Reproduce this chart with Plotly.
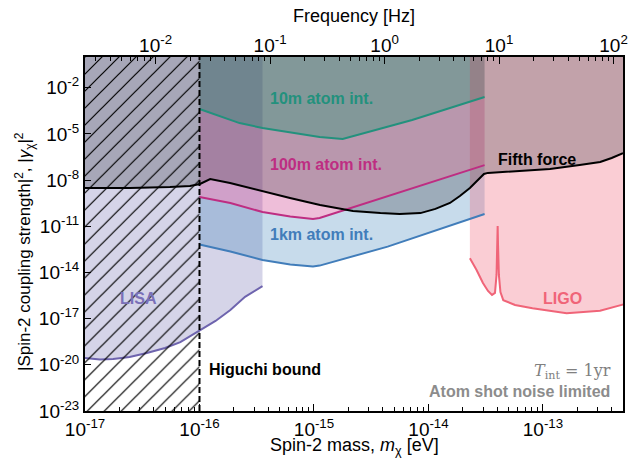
import plotly.graph_objects as go

EV_TO_HZ = 2.417989e14  # frequency [Hz] per eV of mass

# ---- data (mass in eV, coupling |gamma|^2) ----
fifth_mass = [1.0e-17, 2.47e-17, 5.52e-17, 8.26e-17, 1.01e-16, 1.24e-16, 1.85e-16, 3.73e-16,
              6.17e-16, 1.13e-15, 2.19e-15, 3.8e-15, 5.6e-15, 8.5e-15, 1.15e-14, 1.54e-14,
              1.88e-14, 2.3e-14, 2.7e-14, 3.05e-14, 3.3e-14, 6.3e-14, 1.15e-13, 2.09e-13,
              3.16e-13, 3.98e-13, 5.0e-13]
fifth_coupling = [3.1e-9, 3.1e-9, 3.6e-9, 4.2e-9, 5.6e-9, 1.17e-8, 6.6e-9, 1.7e-9,
                  6.9e-10, 2.4e-10, 1.0e-10, 7.2e-11, 6.3e-11, 7.2e-11, 1.35e-10, 3.27e-10,
                  9.3e-10, 3.1e-9, 1.02e-8, 2.5e-8, 2.95e-8, 3.9e-8, 5.2e-8, 9.5e-8,
                  1.5e-7, 2.75e-7, 5.75e-7]

ai10m_mass = [1.0e-16, 2.24e-16, 3.55e-16, 7.6e-16, 1.12e-15, 1.78e-15, 7.2e-15, 3.09e-14]
ai10m_coupling = [4.2e-4, 5.1e-5, 2.45e-5, 1.0e-5, 6.3e-6, 4.7e-6, 8.1e-5, 2.5e-3]

ai100m_mass = [1.0e-16, 1.86e-16, 3.55e-16, 6.2e-16, 9.8e-16, 1.12e-15, 3.09e-14]
ai100m_coupling = [8.1e-10, 3.3e-10, 8.5e-11, 4.4e-11, 3.0e-11, 3.5e-11, 9.5e-8]

ai1km_mass = [1.0e-16, 1.86e-16, 3.55e-16, 6.2e-16, 9.8e-16, 1.12e-15, 4.4e-15, 3.09e-14]
ai1km_coupling = [6.6e-13, 2.3e-13, 6.5e-14, 3.3e-14, 2.45e-14, 2.8e-14, 4.8e-13, 6.3e-11]

lisa_mass = [1.0e-17, 1.35e-17, 1.76e-17, 2.45e-17, 3.47e-17, 5.0e-17, 6.8e-17, 1.0e-16,
             1.38e-16, 1.86e-16, 2.5e-16, 3.55e-16]
lisa_coupling = [2.75e-20, 2.24e-20, 2.4e-20, 3.2e-20, 5.9e-20, 1.23e-19, 3.0e-19, 1.8e-18,
                 7.1e-18, 3.6e-17, 2.6e-16, 1.3e-15]

ligo_mass = [2.3e-14, 2.63e-14, 2.99e-14, 3.31e-14, 3.59e-14, 3.81e-14, 3.93e-14, 3.99e-14,
             4.02e-14, 4.05e-14, 4.12e-14, 4.25e-14, 4.5e-14, 5.7e-14, 8.1e-14, 1.61e-13,
             3.15e-13, 4.87e-13, 5.0e-13]
ligo_coupling = [8.3e-14, 1.45e-14, 2.1e-15, 6.3e-16, 3.5e-16, 4.7e-16, 6.9e-15, 6.2e-13,
                 1.05e-11, 6.2e-13, 6.9e-15, 5.4e-16, 1.6e-16, 7.8e-17, 4.7e-17, 2.24e-17,
                 3.3e-17, 7.8e-17, 8.5e-17]

higuchi_mass = 1.0e-16
mass_range = [1.0e-17, 5.0e-13]
coupling_range = [1.0e-23, 1.0e0]
coupling_top = 1.0e1

mass_ticks = [1e-17, 1e-16, 1e-15, 1e-14, 1e-13]
mass_ticktext = ["10<sup>-17</sup>", "10<sup>-16</sup>", "10<sup>-15</sup>",
                 "10<sup>-14</sup>", "10<sup>-13</sup>"]
coupling_ticks = [1e-23, 1e-20, 1e-17, 1e-14, 1e-11, 1e-8, 1e-5, 1e-2]
coupling_ticktext = ["10<sup>-23</sup>", "10<sup>-20</sup>", "10<sup>-17</sup>",
                     "10<sup>-14</sup>", "10<sup>-11</sup>", "10<sup>-8</sup>",
                     "10<sup>-5</sup>", "10<sup>-2</sup>"]
freq_ticks = [1e-2, 1e-1, 1e0, 1e1, 1e2]
freq_ticktext = ["10<sup>-2</sup>", "10<sup>-1</sup>", "10<sup>0</sup>",
                 "10<sup>1</sup>", "10<sup>2</sup>"]

# ---- styles ----
FONT = "Liberation Sans, Arial, sans-serif"
C_TEAL = "#23917d"
C_MAG = "#be2d82"
C_BLUE = "#417dba"
C_LISA = "#6e64ae"
C_LIGO = "#f06478"

fig = go.Figure()


def poly(xs, ys, color, **kw):
    fig.add_trace(go.Scatter(x=xs, y=ys, fill="toself", fillcolor=color, mode="lines",
                             line=dict(width=0), hoverinfo="skip", showlegend=False, **kw))


# LISA region (curve up to top)
poly(lisa_mass + [lisa_mass[-1], lisa_mass[0] * 0.9, lisa_mass[0] * 0.9],
     lisa_coupling + [coupling_top, coupling_top, lisa_coupling[0]], "rgba(117,112,179,0.30)")
# atom interferometer bands
poly(ai1km_mass + ai100m_mass[::-1], ai1km_coupling + ai100m_coupling[::-1],
     "rgba(55,126,184,0.28)")
poly(ai100m_mass + ai10m_mass[::-1], ai100m_coupling + ai10m_coupling[::-1],
     "rgba(200,40,130,0.30)")
poly(ai10m_mass + [ai10m_mass[-1], ai10m_mass[0]],
     ai10m_coupling + [coupling_top, coupling_top], "rgba(20,95,90,0.40)")
# LIGO
poly(ligo_mass + [ligo_mass[-1] * 1.1, ligo_mass[-1] * 1.1, ligo_mass[0]],
     ligo_coupling + [ligo_coupling[-1], coupling_top, coupling_top], "rgba(240,100,120,0.32)")
# fifth force
poly([fifth_mass[0] * 0.9] + fifth_mass + [fifth_mass[-1] * 1.1, fifth_mass[-1] * 1.1, fifth_mass[0] * 0.9],
     [fifth_coupling[0]] + fifth_coupling + [fifth_coupling[-1], coupling_top, coupling_top],
     "rgba(50,50,60,0.28)")

# curves
for xs, ys, c in [(lisa_mass, lisa_coupling, C_LISA), (ai1km_mass, ai1km_coupling, C_BLUE),
                  (ai100m_mass, ai100m_coupling, C_MAG), (ai10m_mass, ai10m_coupling, C_TEAL),
                  (ligo_mass, ligo_coupling, C_LIGO), (fifth_mass, fifth_coupling, "black")]:
    fig.add_trace(go.Scatter(x=xs, y=ys, mode="lines", line=dict(color=c, width=2),
                             hoverinfo="skip", showlegend=False))

# Higuchi hatched region
fig.add_trace(go.Scatter(
    x=[mass_range[0] * 0.9, higuchi_mass, higuchi_mass, mass_range[0] * 0.9],
    y=[coupling_range[0] * 0.1, coupling_range[0] * 0.1, coupling_top, coupling_top],
    fill="toself", fillcolor="rgba(0,0,0,0)", mode="lines", line=dict(width=0),
    fillpattern=dict(shape="/", fgcolor="black", fgopacity=1, bgcolor="rgba(0,0,0,0)", size=12,
                     solidity=0.1, fillmode="overlay"),
    hoverinfo="skip", showlegend=False))
fig.add_trace(go.Scatter(x=[higuchi_mass, higuchi_mass], y=[coupling_range[0], coupling_range[1]],
                         mode="lines", line=dict(color="black", width=2, dash="6px,3px"),
                         hoverinfo="skip", showlegend=False))

# dummy trace for frequency axis
fig.add_trace(go.Scatter(x=[mass_range[0] * EV_TO_HZ, mass_range[1] * EV_TO_HZ], y=[1e-10, 1e-10],
                         xaxis="x2", mode="markers", marker=dict(opacity=0),
                         hoverinfo="skip", showlegend=False))

minor_mass = [k * 10.0 ** e for e in range(-17, -12) for k in range(2, 10)]
minor_freq = [k * 10.0 ** e for e in range(-3, 3) for k in range(1, 10)]

tickfont = dict(family=FONT, size=19, color="black")
fig.update_layout(
    width=638, height=459,
    margin=dict(l=85, r=15, t=57, b=48),
    paper_bgcolor="white", plot_bgcolor="white",
    font=dict(family=FONT, color="black"),
    xaxis=dict(type="log", range=[-17, -12.30103], showline=True, linewidth=2, linecolor="black",
               mirror=True, ticks="inside", ticklen=7, tickwidth=1, tickcolor="black",
               tickvals=mass_ticks, ticktext=mass_ticktext, tickfont=tickfont, showgrid=False,
               zeroline=False, automargin=False,
               minor=dict(ticks="inside", ticklen=4, tickwidth=1, tickcolor="black",
                          tickvals=minor_mass, showgrid=False)),
    xaxis2=dict(type="log", overlaying="x", side="top", anchor="y",
                range=[-17 + 14.383453, -12.30103 + 14.383453],
                showline=False, ticks="inside", ticklen=7, tickwidth=1, tickcolor="black",
                tickvals=freq_ticks, ticktext=freq_ticktext, tickfont=tickfont, showgrid=False,
                zeroline=False, automargin=False,
                minor=dict(ticks="inside", ticklen=4, tickwidth=1, tickcolor="black",
                           tickvals=minor_freq, showgrid=False)),
    yaxis=dict(type="log", range=[-23, 0], showline=True, linewidth=2, linecolor="black",
               mirror=True, ticks="inside", ticklen=6, tickwidth=1, tickcolor="black",
               tickvals=coupling_ticks, ticktext=coupling_ticktext, tickfont=tickfont,
               showgrid=False, zeroline=False, automargin=False),
)

W0, W1, H0, H1 = 85, 623, 57, 411


def px(xp, yp):
    return (xp - W0) / (W1 - W0), (H1 - yp) / (H1 - H0)


def label(text, xp, yp, color, size=16, family=FONT, **kw):
    x, y = px(xp, yp)
    fig.add_annotation(x=x, y=y, xref="paper", yref="paper", text=text, showarrow=False,
                       font=dict(family=family, size=size, color=color),
                       xanchor="center", yanchor="middle", **kw)


label("<b>10m atom int.</b>", 321, 98, C_TEAL)
label("<b>100m atom int.</b>", 326, 164, C_MAG)
label("<b>1km atom int.</b>", 321, 234, C_BLUE)
label("<b>Fifth force</b>", 536.5, 159.5, "black")
label("<b>LISA</b>", 138.5, 298, "#7a70b8")
label("<b>LIGO</b>", 562.5, 298, C_LIGO)
label("<b>Higuchi bound</b>", 265, 369, "black")
label("<i>T</i><sub>int</sub> = 1yr", 572, 371, "#808080", size=16,
      family="DejaVu Serif, Liberation Serif, serif")
label("<b>Atom shot noise limited</b>", 519, 391, "#8c8c8c")

# axis titles
label("Spin-2 mass, <i>m</i><sub>χ</sub> [eV]", 354, 446, "black", size=18)
label("Frequency [Hz]", 354, 16, "black", size=18)
label("|Spin-2 coupling strength|<sup>2</sup>, |<i>γ</i><sub>χ</sub>|<sup>2</sup>", 24, 252,
      "black", size=17, textangle=-90)

fig.write_html("out.html", config={"displayModeBar": False},
               post_script="document.body.style.margin='0';document.body.style.padding='0';")
